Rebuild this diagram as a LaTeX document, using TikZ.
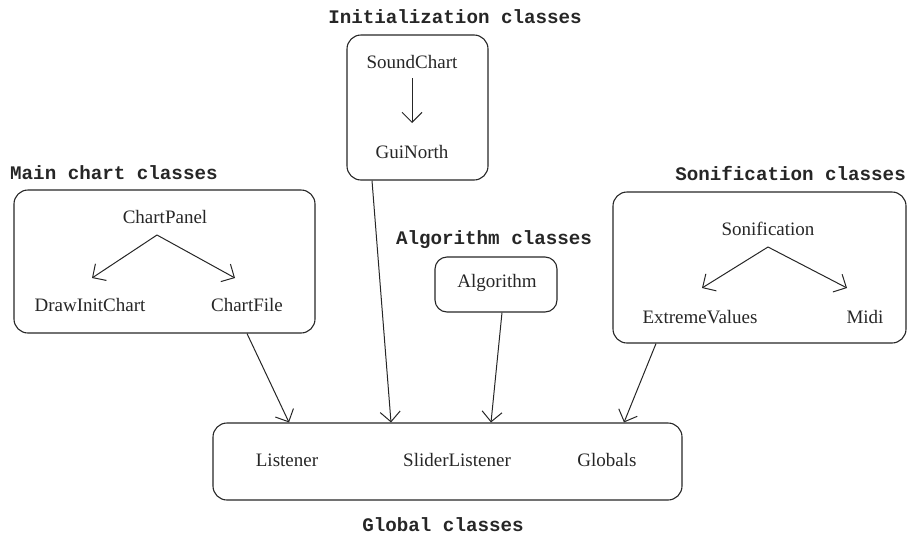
\documentclass[tikz,border=0pt]{standalone}
\usepackage{fontspec}
\setmainfont{Liberation Serif}
\newfontfamily\titlefont{Liberation Mono}
\usetikzlibrary{arrows.meta,calc}
\definecolor{ink}{HTML}{262626}
\tikzset{
  grp/.style={draw=ink, line width=1.1pt, rounded corners=14pt, inner sep=0pt},
  cls/.style={inner sep=0pt, text=ink, font=\fontsize{19}{21}\selectfont},
  ttl/.style={inner sep=0pt, text=ink, font=\titlefont\bfseries\fontsize{19.2}{21}\selectfont},
  arr/.style={draw=ink, line width=1pt, -{Straight Barb[length=10pt,width=20pt,line width=1pt]}}
}
\begin{document}
\begin{tikzpicture}[x=1pt,y=-1pt]
\useasboundingbox (0,0) rectangle (907,536);
% boxes
\node[grp, minimum width=141pt, minimum height=145pt] (initbox) at (417.5,107.5) {};
\node[grp, minimum width=301pt, minimum height=143pt] (mainbox) at (164.5,261.5) {};
\node[grp, minimum width=293pt, minimum height=151pt] (sonbox) at (759.5,267.5) {};
\node[grp, minimum width=122pt, minimum height=55pt, rounded corners=12pt] (algbox) at (496,284.5) {};
\node[grp, minimum width=469pt, minimum height=77pt] (globbox) at (447.5,461.5) {};
% titles
\node[ttl] (tinit) at (455,17) {Initialization classes};
\node[ttl, anchor=west] (tmain) at (10,173) {Main chart classes};
\node[ttl, anchor=east] (tson) at (906,173) {Sonification classes};
\node[ttl] (talg) at (494,240) {Algorithm classes};
\node[ttl] (tglob) at (443,525) {Global classes};
% classes
\node[cls] (sc) at (412,62) {SoundChart};
\node[cls] (gn) at (412,152) {GuiNorth};
\node[cls] (cp) at (165,217) {ChartPanel};
\node[cls] (dic) at (90,305) {DrawInitChart};
\node[cls] (cf) at (247,305) {ChartFile};
\node[cls] (so) at (768,229) {Sonification};
\node[cls] (ev) at (700,317) {ExtremeValues};
\node[cls] (mi) at (865,317) {Midi};
\node[cls] (al) at (497,283) {Algorithm};
\node[cls] (li) at (287,460) {Listener};
\node[cls] (sl) at (457,460) {SliderListener};
\node[cls] (gl) at (607,460) {Globals};
% inner arrows
\draw[arr] ([shift={(0,16)}]sc.center) -- ([shift={(0,-29)}]gn.center);
\draw[arr] ([shift={(-8,18)}]cp.center) -- ([shift={(2,-27)}]dic.center);
\draw[arr] ([shift={(-8,18)}]cp.center) -- ([shift={(-12,-27)}]cf.center);
\draw[arr] ([shift={(0,18)}]so.center) -- ([shift={(2,-29)}]ev.center);
\draw[arr] ([shift={(0,18)}]so.center) -- ([shift={(-18,-29)}]mi.center);
% connectors to global classes
\draw[arr] ([xshift=82.5pt]mainbox.south) -- ([xshift=-158.5pt]globbox.north);
\draw[arr] ([xshift=-45.5pt]initbox.south) -- ([xshift=-56.5pt]globbox.north);
\draw[arr] ([xshift=6pt]algbox.south) -- ([xshift=43.5pt]globbox.north);
\draw[arr] ([xshift=-103.5pt]sonbox.south) -- ([xshift=176.5pt]globbox.north);
\end{tikzpicture}
\end{document}
